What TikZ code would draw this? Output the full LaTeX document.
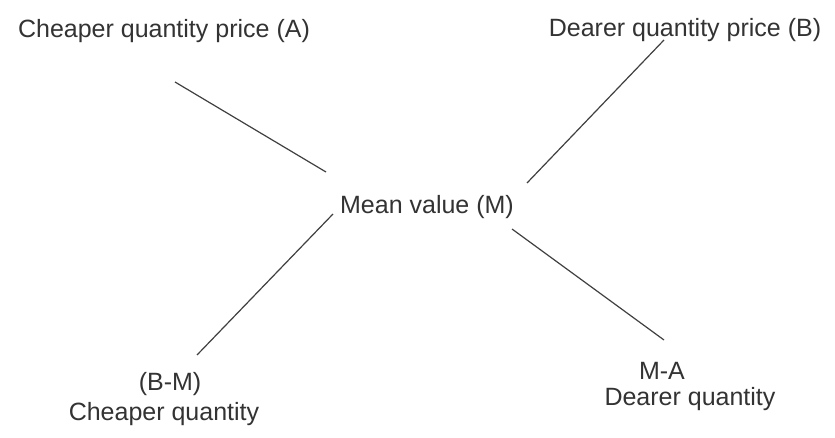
\documentclass[tikz,border=0pt]{standalone}
\usepackage{fontspec}
\setmainfont{Liberation Sans}
\begin{document}
\begin{tikzpicture}[x=1pt,y=-1pt,
  lbl/.style={font=\fontsize{25}{30}\selectfont, text=black!80, inner sep=0pt, anchor=base},
  conn/.style={draw=black!75, line width=1.2pt}]
\useasboundingbox[fill=white] (0,0) rectangle (835,438);
\node[lbl] (A) at (164,38) {Cheaper quantity price (A)};
\node[lbl] (B) at (685,37) {Dearer quantity price (B)};
\node[lbl] (M) at (427,214) {Mean value (M)};
\node[lbl] (BM) at (170,390) {(B-M)};
\node[lbl] (CQ) at (164,420) {Cheaper quantity};
\node[lbl] (MA) at (662,379) {M-A};
\node[lbl] (DQ) at (690,405) {Dearer quantity};
\coordinate (a1) at (175,82);  \coordinate (a2) at (326,172);
\coordinate (b1) at (527,183); \coordinate (b2) at (664,40);
\coordinate (c1) at (333,214); \coordinate (c2) at (197,355);
\coordinate (d1) at (512,229); \coordinate (d2) at (664,340);
\draw[conn] (a1) -- (a2);
\draw[conn] (b1) -- (b2);
\draw[conn] (c1) -- (c2);
\draw[conn] (d1) -- (d2);
\end{tikzpicture}
\end{document}
